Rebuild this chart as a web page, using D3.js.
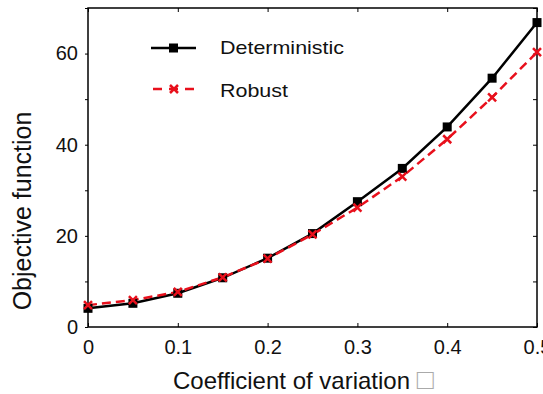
<!DOCTYPE html>
<html>
<head>
<meta charset="utf-8">
<script src="https://cdn.jsdelivr.net/npm/d3@7"></script>
<style>
  body { margin: 0; background: #fff; }
  svg { font-family: "Liberation Sans", Arial, sans-serif; }
</style>
</head>
<body>
<svg width="543" height="394"></svg>
<script>
// data
var cv = [0, 0.05, 0.1, 0.15, 0.2, 0.25, 0.3, 0.35, 0.4, 0.45, 0.5];
var deterministic = [4.1, 5.2, 7.4, 10.8, 15.1, 20.5, 27.5, 34.8, 43.9, 54.6, 66.8];
var robust = [4.8, 5.9, 7.7, 10.9, 15.0, 20.3, 26.2, 33.0, 41.2, 50.4, 60.3];
var xTicks = [0, 0.1, 0.2, 0.3, 0.4, 0.5];
var yTicks = [0, 20, 40, 60];
var yMinor = [10, 30, 50, 70];

var margin = { top: 8, right: 6, bottom: 67, left: 88 };
var width = 543 - margin.left - margin.right;
var height = 394 - margin.top - margin.bottom;

var svg = d3.select("svg");
var g = svg.append("g")
    .attr("transform", "translate(" + margin.left + "," + margin.top + ")");

var x = d3.scaleLinear().domain([0, 0.5]).range([0, width]);
var y = d3.scaleLinear().domain([0, 70]).range([height, 0]);

// frame
g.append("rect")
    .attr("width", width).attr("height", height)
    .attr("fill", "none").attr("stroke", "#000").attr("stroke-width", 1.5);

// bottom axis (ticks inward)
var xAxis = g.append("g")
    .attr("transform", "translate(0," + height + ")")
    .call(d3.axisBottom(x).tickValues(xTicks).tickSize(-4).tickPadding(13)
        .tickFormat(function (d) { return d === 0 ? "0" : d3.format(".1f")(d); }));
xAxis.select(".domain").remove();
xAxis.selectAll("text").attr("font-size", 20).attr("fill", "#111");

// top ticks
g.append("g")
    .call(d3.axisTop(x).tickValues(xTicks).tickSize(-4).tickFormat(""))
    .select(".domain").remove();

// left axis
var yAxis = g.append("g")
    .call(d3.axisLeft(y).tickValues(yTicks).tickSize(3).tickPadding(7));
yAxis.select(".domain").remove();
yAxis.selectAll("text").attr("font-size", 20).attr("fill", "#111");
g.append("g")
    .call(d3.axisLeft(y).tickValues(yMinor).tickSize(3).tickFormat(""))
    .select(".domain").remove();

// right ticks
g.append("g")
    .attr("transform", "translate(" + width + ",0)")
    .call(d3.axisRight(y).tickValues(yTicks.concat(yMinor)).tickSize(-4).tickFormat(""))
    .select(".domain").remove();

// lines
var line = d3.line()
    .x(function (d, i) { return x(cv[i]); })
    .y(function (d) { return y(d); });

g.append("path")
    .datum(deterministic)
    .attr("d", line)
    .attr("fill", "none").attr("stroke", "#000").attr("stroke-width", 2.5);

g.append("path")
    .datum(robust)
    .attr("d", line)
    .attr("fill", "none").attr("stroke", "#e8101c").attr("stroke-width", 2.5)
    .attr("stroke-dasharray", "9,5");

// markers
g.selectAll(".sq").data(deterministic).enter().append("rect")
    .attr("x", function (d, i) { return x(cv[i]) - 4.5; })
    .attr("y", function (d) { return y(d) - 4.5; })
    .attr("width", 9).attr("height", 9).attr("fill", "#000");

var cross = "M-4,-4L4,4M-4,4L4,-4";
g.selectAll(".cr").data(robust).enter().append("path")
    .attr("transform", function (d, i) { return "translate(" + x(cv[i]) + "," + y(d) + ")"; })
    .attr("d", cross)
    .attr("stroke", "#e8101c").attr("stroke-width", 2.5).attr("fill", "none");

// legend
var leg = svg.append("g");
leg.append("line").attr("x1", 151).attr("x2", 196).attr("y1", 48).attr("y2", 48)
    .attr("stroke", "#000").attr("stroke-width", 2.5);
leg.append("rect").attr("x", 169).attr("y", 43.5).attr("width", 9).attr("height", 9).attr("fill", "#000");
leg.append("text").attr("transform", "translate(220,54) scale(1.13,1)")
    .attr("font-size", 19).attr("fill", "#111").text("Deterministic");

leg.append("line").attr("x1", 153).attr("x2", 196).attr("y1", 89).attr("y2", 89)
    .attr("stroke", "#e8101c").attr("stroke-width", 2.5).attr("stroke-dasharray", "9,7");
leg.append("path").attr("transform", "translate(174,89)").attr("d", cross)
    .attr("stroke", "#e8101c").attr("stroke-width", 2.5);
leg.append("text").attr("transform", "translate(220,97) scale(1.13,1)")
    .attr("font-size", 19).attr("fill", "#111").text("Robust");

// axis titles
var xt = svg.append("text")
    .attr("x", 173).attr("y", 389)
    .attr("font-size", 24).attr("fill", "#111");
xt.append("tspan").text("Coefficient of variation ");
xt.append("tspan").attr("fill", "#aaa").attr("font-size", 28).text("□");

svg.append("text")
    .attr("transform", "translate(31,211) rotate(-90)")
    .attr("text-anchor", "middle").attr("font-size", 25).attr("fill", "#111")
    .text("Objective function");
</script>
</body>
</html>
